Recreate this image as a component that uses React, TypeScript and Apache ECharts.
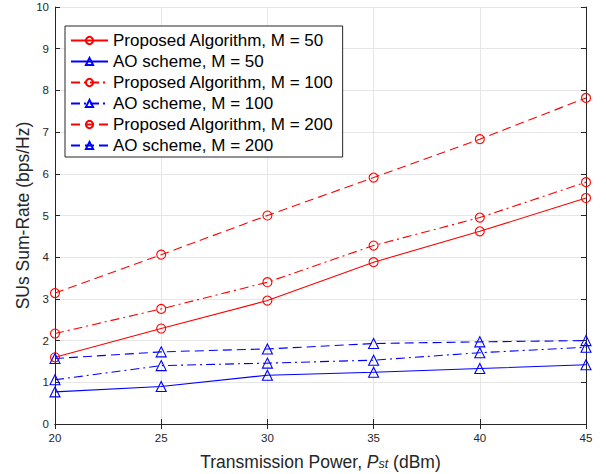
import React, { useEffect, useRef } from "react";
import * as echarts from "echarts";

const xValues = [20, 25, 30, 35, 40, 45];
const propM50 = [1.6, 2.29, 2.96, 3.88, 4.62, 5.42];
const aoM50 = [0.77, 0.9, 1.17, 1.24, 1.33, 1.42];
const propM100 = [2.17, 2.76, 3.4, 4.28, 4.95, 5.8];
const aoM100 = [1.06, 1.4, 1.46, 1.53, 1.71, 1.84];
const propM200 = [3.14, 4.06, 5.0, 5.91, 6.83, 7.82];
const aoM200 = [1.57, 1.73, 1.8, 1.93, 1.97, 2.0];
const seriesNames = [
  "Proposed Algorithm, M = 50",
  "AO scheme, M = 50",
  "Proposed Algorithm, M = 100",
  "AO scheme, M = 100",
  "Proposed Algorithm, M = 200",
  "AO scheme, M = 200",
];

const FONT = "Liberation Sans, Arial, Helvetica, sans-serif";
const AX = "#262626";

export default function App() {
  const ref = useRef<HTMLDivElement>(null);
  useEffect(() => {
    const chart = echarts.init(ref.current!, null, { renderer: "svg" });
    const dashed = [9, 5];
    const dashDot = [9, 4, 2, 4];
    const mk = (name: string, data: number[], color: string, sym: string, type: any) => ({
      name,
      type: "line",
      data: data.map((v, i) => [xValues[i], v]),
      symbol: sym,
      symbolSize: sym === "circle" ? 9 : 10,
      showSymbol: true,
      color,
      lineStyle: { color, width: 1.1, type },
      itemStyle: { color: "rgba(255,255,255,0)", borderColor: color, borderWidth: 1.1 },
      emphasis: { disabled: true },
    });
    const axisCommon = {
      axisLine: { show: true, lineStyle: { color: AX, width: 1 } },
      axisTick: { show: true, inside: true, length: 5, lineStyle: { color: AX } },
    };
    chart.setOption({
      animation: false,
      grid: { left: 55, right: 20, top: 7, bottom: 50, containLabel: false, outerBoundsMode: "none" },
      legend: {
        orient: "vertical",
        left: 65,
        top: 26,
        data: seriesNames,
        backgroundColor: "#fff",
        borderColor: AX,
        borderWidth: 1,
        padding: [6, 9, 3, 5],
        itemWidth: 37,
        itemHeight: 9,
        itemGap: 4,
        textStyle: { fontFamily: FONT, fontSize: 17, color: "#000", lineHeight: 16 },
      },
      xAxis: [
        {
          type: "value",
          min: 20,
          max: 45,
          interval: 5,
          ...axisCommon,
          axisLabel: { color: AX, fontFamily: FONT, fontSize: 11.5, margin: 8 },
          splitLine: { show: true, lineStyle: { color: "#e6e6e6" } },
          name: "{t|Transmission Power, }{i|P}{s|st}{t| (dBm)}",
          nameLocation: "middle",
          nameGap: 25,
          nameTextStyle: {
            fontFamily: FONT,
            fontSize: 17.5,
            color: AX,
            rich: {
              t: { fontFamily: FONT, fontSize: 17.5, color: AX, lineHeight: 18, verticalAlign: "top" },
              i: { fontFamily: FONT, fontSize: 17.5, fontStyle: "italic", color: AX, lineHeight: 18, verticalAlign: "top" },
              s: { fontFamily: FONT, fontSize: 12.5, fontStyle: "italic", color: AX, lineHeight: 13, padding: [9, 0, 0, 0], verticalAlign: "bottom" },
            },
          },
        },
        {
          type: "value",
          position: "top",
          min: 20,
          max: 45,
          interval: 5,
          ...axisCommon,
          axisLabel: { show: false },
          splitLine: { show: false },
        },
      ],
      yAxis: [
        {
          type: "value",
          min: 0,
          max: 10,
          interval: 1,
          ...axisCommon,
          axisLabel: { color: AX, fontFamily: FONT, fontSize: 11.5, margin: 6 },
          splitLine: { show: true, lineStyle: { color: "#e6e6e6" } },
          name: "SUs Sum-Rate (bps/Hz)",
          nameLocation: "middle",
          nameGap: 23,
          nameMoveOverlap: false,
          nameTextStyle: { fontFamily: FONT, fontSize: 17.5, color: AX },
        },
        {
          type: "value",
          position: "right",
          min: 0,
          max: 10,
          interval: 1,
          ...axisCommon,
          axisLabel: { show: false },
          splitLine: { show: false },
        },
      ],
      series: [
        mk(seriesNames[0], propM50, "#ff0000", "circle", "solid"),
        mk(seriesNames[1], aoM50, "#0000ff", "triangle", "solid"),
        mk(seriesNames[2], propM100, "#ff0000", "circle", dashDot),
        mk(seriesNames[3], aoM100, "#0000ff", "triangle", dashDot),
        mk(seriesNames[4], propM200, "#ff0000", "circle", dashed),
        mk(seriesNames[5], aoM200, "#0000ff", "triangle", dashed),
      ],
    });
    return () => chart.dispose();
  }, []);
  return (
    <div
      ref={ref}
      style={{ position: "fixed", left: 0, top: 0, width: 606, height: 474, background: "#fff" }}
    />
  );
}
